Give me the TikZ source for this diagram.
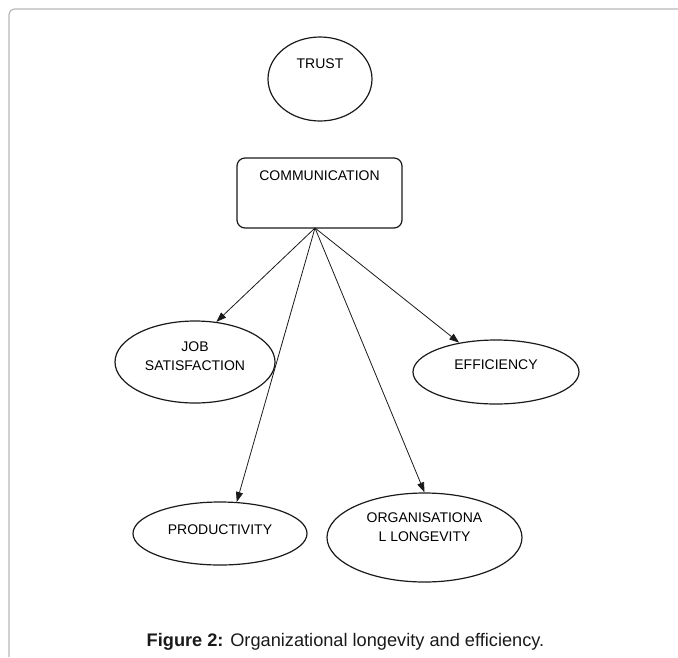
\documentclass[tikz,border=0pt]{standalone}
\usepackage{fontspec}
\setmainfont{Liberation Sans}
\usepackage{xcolor}
\usepackage{tikz}
\usetikzlibrary{arrows.meta,positioning,shapes.geometric}
\definecolor{inkc}{HTML}{1A1A1A}
\definecolor{framec}{HTML}{B8B8B8}
\newcommand{\lifttext}[2]{\raisebox{#1}[0pt][0pt]{#2}}
\newcommand{\twolines}[2]{\begin{tabular}{@{}c@{}}#1\\#2\end{tabular}}
\tikzset{
  ar/.style={-{Triangle[length=10pt,width=7pt]},line width=0.8pt,inkc},
  box/.style={draw=inkc,line width=1.2pt,rounded corners=8pt,inner sep=0pt,font=\fontsize{14}{18.5}\selectfont},
  ov/.style={ellipse,draw=inkc,line width=1.2pt,inner sep=0pt,font=\fontsize{14}{18.5}\selectfont}
}
\begin{document}
\begin{tikzpicture}[x=1pt,y=-1pt]
\useasboundingbox (0,0) rectangle (678,657);
\draw[framec,line width=1.2pt,rounded corners=6pt] (9,657) |- (678,9);
% top
\node[ov,minimum width=104,minimum height=84] (trust) at (320,79) {\lifttext{11pt}{TRUST}};
\node[box,minimum width=165,minimum height=70] (comm) at (319.5,193) {\lifttext{13pt}{COMMUNICATION}};
\coordinate (hub) at (315,228);
% outcomes
\node[ov,minimum width=160,minimum height=82] (job) at (195,362) {\lifttext{1pt}{\twolines{JOB}{SATISFACTION}}};
\node[ov,minimum width=166,minimum height=64] (eff) at (496,372) {\lifttext{3pt}{EFFICIENCY}};
\node[ov,minimum width=174,minimum height=63] (prod) at (220,533.5) {\lifttext{-1pt}{PRODUCTIVITY}};
\node[ov,minimum width=195,minimum height=89] (org) at (424.5,537.5) {\lifttext{5.5pt}{\twolines{ORGANISATIONA}{L LONGEVITY}}};
\draw[ar] (hub) -- (job.62);
\draw[ar] (hub) -- (prod.62);
\draw[ar] (hub) -- (org.north);
\draw[ar] (hub) -- (eff);
% caption
\node[inkc,font=\fontsize{18.2}{22}\selectfont] (cap) at (345.5,642) {\textbf{Figure 2:} Organizational longevity and efficiency.};
\end{tikzpicture}
\end{document}
